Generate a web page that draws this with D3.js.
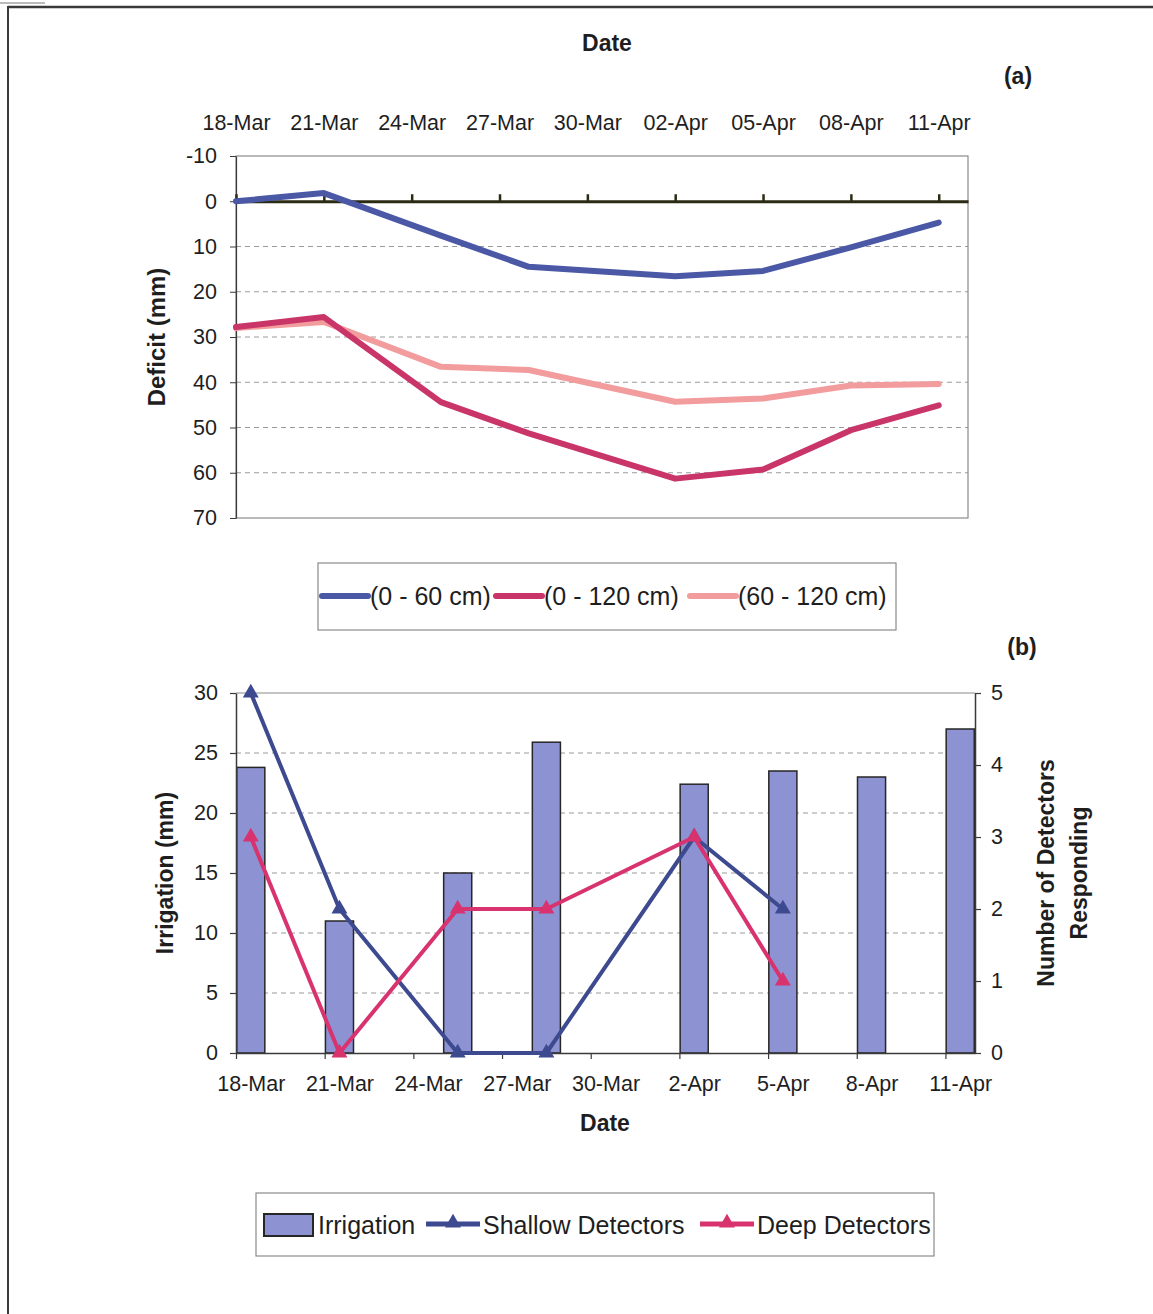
<!DOCTYPE html>
<html>
<head>
<meta charset="utf-8">
<script src="https://cdn.jsdelivr.net/npm/d3@7"></script>
<style>
  body { margin: 0; background: #fff; }
  text { font-family: "Liberation Sans", Arial, Helvetica, sans-serif; fill: #1e1e1e; }
  .title { font-weight: bold; font-size: 23px; }
  .tick text { font-size: 21.5px; }
  .legend text { font-size: 25px; }
</style>
</head>
<body>
<svg id="fig" width="1153" height="1314"></svg>
<script>
// ---- data ----------------------------------------------------------------
const sampleDates = ["2002-03-18", "2002-03-21", "2002-03-25", "2002-03-28",
                     "2002-04-02", "2002-04-05", "2002-04-08", "2002-04-11"];

// soil water deficit (mm) by depth layer
const deficit0to60   = [0, -1.8, 7.6, 14.5, 16.6, 15.4, 10.2, 4.7];
const deficit0to120  = [27.8, 25.6, 44.4, 51.3, 61.3, 59.3, 50.6, 45.1];
const deficit60to120 = [28.0, 26.7, 36.6, 37.3, 44.3, 43.6, 40.7, 40.4];
const deficitTicks   = [-10, 0, 10, 20, 30, 40, 50, 60, 70];
const deficitSeries  = ["(0 - 60 cm)", "(0 - 120 cm)", "(60 - 120 cm)"];

// irrigation depth (mm) and wetting-front detectors responding
const irrigation       = [23.8, 11, 15, 25.9, 22.4, 23.5, 23, 27];
const detectorDates    = sampleDates.slice(0, 6);
const shallowDetectors = [5, 2, 0, 0, 3, 2];
const deepDetectors    = [3, 0, 2, 2, 3, 1];
const irrigationTicks  = [0, 5, 10, 15, 20, 25, 30];
const detectorTicks    = [0, 1, 2, 3, 4, 5];

const topTickLabels    = ["18-Mar", "21-Mar", "24-Mar", "27-Mar", "30-Mar",
                          "02-Apr", "05-Apr", "08-Apr", "11-Apr"];
const bottomTickLabels = ["18-Mar", "21-Mar", "24-Mar", "27-Mar", "30-Mar",
                          "2-Apr", "5-Apr", "8-Apr", "11-Apr"];

// ---- setup ---------------------------------------------------------------
const parse = d3.timeParse("%Y-%m-%d");
const start = parse("2002-03-18");
const end   = parse("2002-04-12");
const tickDates = topTickLabels.map((_, i) => d3.timeDay.offset(start, 3 * i));
const plain = d => String(d);   // hyphen-minus, no decimals

const C = {
  blue: "#4a58a6", crimson: "#c93568", salmon: "#f29c9e",
  bar: "#8d92d2", barEdge: "#262626", navy: "#3d4a8f", rose: "#d8336e",
  grid: "#9a9a9a", frame: "#8a8a8a", axis: "#3a3a3a"
};

const svg = d3.select("#fig");

// page frame
svg.append("line").attr("x1", 8).attr("y1", 7).attr("x2", 1153).attr("y2", 7)
  .attr("stroke", "#3a3a3a").attr("stroke-width", 2.5);
svg.append("line").attr("x1", 8).attr("y1", 6).attr("x2", 8).attr("y2", 1314)
  .attr("stroke", "#3a3a3a").attr("stroke-width", 2);
svg.append("line").attr("x1", 0).attr("y1", 3).attr("x2", 45).attr("y2", 3)
  .attr("stroke", "#bbb").attr("stroke-width", 2);

// ======================= (a) soil water deficit ============================
const xTop = d3.scaleTime().domain([start, end]).range([236, 968]);
const yTop = d3.scaleLinear().domain([-10, 70]).range([156, 518]);

const gA = svg.append("g");

// dashed gridlines
gA.append("g").selectAll("line")
  .data(deficitTicks.filter(v => v > 0 && v < 70))
  .join("line")
  .attr("x1", xTop.range()[0]).attr("x2", xTop.range()[1])
  .attr("y1", d => yTop(d)).attr("y2", d => yTop(d))
  .attr("stroke", C.grid).attr("stroke-width", 1).attr("stroke-dasharray", "5,4");

// plot frame
gA.append("rect")
  .attr("x", xTop.range()[0]).attr("y", yTop(-10))
  .attr("width", xTop.range()[1] - xTop.range()[0]).attr("height", yTop(70) - yTop(-10))
  .attr("fill", "none").attr("stroke", C.frame).attr("stroke-width", 1.2);

// left value axis
const axA = gA.append("g").attr("transform", `translate(${xTop.range()[0]},0)`)
  .call(d3.axisLeft(yTop).tickValues(deficitTicks).tickSize(6).tickPadding(13)
    .tickSizeOuter(0).tickFormat(plain));
axA.select(".domain").attr("stroke", C.axis).attr("stroke-width", 1.2);
axA.selectAll(".tick line").attr("stroke", C.axis);

// date labels along the top
const axTopLab = gA.append("g").attr("transform", `translate(0,${yTop(-10)})`)
  .call(d3.axisTop(xTop).tickValues(tickDates).tickSize(0).tickPadding(26)
    .tickFormat((d, i) => topTickLabels[i]));
axTopLab.select(".domain").remove();

// date axis crossing at zero deficit
const axZero = gA.append("g").attr("transform", `translate(0,${yTop(0)})`)
  .call(d3.axisTop(xTop).tickValues(tickDates).tickSize(7).tickSizeOuter(0).tickFormat(""));
axZero.select(".domain").attr("stroke", "#2b2a12").attr("stroke-width", 3);
axZero.selectAll(".tick line").attr("stroke", "#2b2a12").attr("stroke-width", 2.5);

// deficit lines
const lineA = d3.line().x(d => xTop(d.date)).y(d => yTop(d.v));
const seriesA = [
  { name: deficitSeries[0], values: deficit0to60,   color: C.blue },
  { name: deficitSeries[1], values: deficit0to120,  color: C.crimson },
  { name: deficitSeries[2], values: deficit60to120, color: C.salmon }
];
// draw light layer first so the darker ones sit on top
[seriesA[2], seriesA[1], seriesA[0]].forEach(s => {
  gA.append("path")
    .datum(sampleDates.map((d, i) => ({ date: parse(d), v: s.values[i] })))
    .attr("d", lineA)
    .attr("fill", "none").attr("stroke", s.color).attr("stroke-width", 6)
    .attr("stroke-linejoin", "round").attr("stroke-linecap", "round");
});

// titles
svg.append("text").attr("class", "title").attr("x", 607).attr("y", 51)
  .attr("text-anchor", "middle").text("Date");
svg.append("text").attr("class", "title").attr("x", 1018).attr("y", 84)
  .attr("text-anchor", "middle").text("(a)");
svg.append("text").attr("class", "title")
  .attr("transform", `translate(165,${(yTop(-10) + yTop(70)) / 2}) rotate(-90)`)
  .attr("text-anchor", "middle").style("font-size", "24px").text("Deficit (mm)");

// legend (a)
const legA = svg.append("g").attr("class", "legend");
legA.append("rect").attr("x", 318).attr("y", 563).attr("width", 578).attr("height", 67)
  .attr("fill", "#fff").attr("stroke", C.frame).attr("stroke-width", 1.2);
const legAx = [322, 496, 690];
seriesA.forEach((s, i) => {
  legA.append("line").attr("x1", legAx[i]).attr("x2", legAx[i] + 46)
    .attr("y1", 596).attr("y2", 596)
    .attr("stroke", s.color).attr("stroke-width", 6).attr("stroke-linecap", "round");
  legA.append("text").attr("x", legAx[i] + 48).attr("y", 605).text(s.name);
});

// ======================= (b) irrigation & detectors ========================
const xBot = d3.scaleTime().domain([start, end]).range([236, 975]);
const yBot = d3.scaleLinear().domain([0, 30]).range([1053, 693]);
const yRight = d3.scaleLinear().domain([0, 5]).range([1053, 693]);
const mid = s => d3.timeHour.offset(parse(s), 12);   // centre of a day slot
const dayW = xBot(d3.timeDay.offset(start, 1)) - xBot(start);

const gB = svg.append("g");

// gridlines
gB.append("g").selectAll("line")
  .data(irrigationTicks.filter(v => v > 0 && v < 30))
  .join("line")
  .attr("x1", xBot.range()[0]).attr("x2", xBot.range()[1])
  .attr("y1", d => yBot(d)).attr("y2", d => yBot(d))
  .attr("stroke", C.grid).attr("stroke-width", 1).attr("stroke-dasharray", "5,4");
gB.append("line")
  .attr("x1", xBot.range()[0]).attr("x2", xBot.range()[1])
  .attr("y1", yBot(30)).attr("y2", yBot(30))
  .attr("stroke", C.frame).attr("stroke-width", 1.2);

// irrigation bars
const barW = dayW * 0.95;
gB.append("g").selectAll("rect")
  .data(sampleDates.map((d, i) => ({ date: d, v: irrigation[i] })))
  .join("rect")
  .attr("x", d => xBot(mid(d.date)) - barW / 2)
  .attr("y", d => yBot(d.v))
  .attr("width", barW)
  .attr("height", d => yBot(0) - yBot(d.v))
  .attr("fill", C.bar).attr("stroke", C.barEdge).attr("stroke-width", 1.5);

// axes
const axBL = gB.append("g").attr("transform", `translate(${xBot.range()[0]},0)`)
  .call(d3.axisLeft(yBot).tickValues(irrigationTicks).tickSize(6).tickPadding(12)
    .tickSizeOuter(0).tickFormat(plain));
const axBR = gB.append("g").attr("transform", `translate(${xBot.range()[1]},0)`)
  .call(d3.axisRight(yRight).tickValues(detectorTicks).tickSize(6).tickPadding(10)
    .tickSizeOuter(0).tickFormat(plain));
const axBX = gB.append("g").attr("transform", `translate(0,${yBot(0)})`)
  .call(d3.axisBottom(xBot).tickValues(tickDates).tickSize(6).tickSizeOuter(0).tickFormat(""));
const axBXLab = gB.append("g").attr("transform", `translate(0,${yBot(0)})`)
  .call(d3.axisBottom(xBot).tickValues(tickDates.map(d => d3.timeHour.offset(d, 12)))
    .tickSize(0).tickPadding(23).tickFormat((d, i) => bottomTickLabels[i]));
axBXLab.select(".domain").remove();
[axBL, axBR, axBX].forEach(a => {
  a.select(".domain").attr("stroke", C.axis).attr("stroke-width", 1.5);
  a.selectAll(".tick line").attr("stroke", C.axis).attr("stroke-width", 1.2);
});

// detector lines with triangle markers
const lineB = d3.line().x(d => xBot(mid(d.date))).y(d => yRight(d.v));
const tri = d3.symbol().type(d3.symbolTriangle).size(110);
const seriesB = [
  { name: "Shallow Detectors", values: shallowDetectors, color: C.navy },
  { name: "Deep Detectors",    values: deepDetectors,    color: C.rose }
];
seriesB.forEach(s => {
  const pts = detectorDates.map((d, i) => ({ date: d, v: s.values[i] }));
  gB.append("path").datum(pts).attr("d", lineB)
    .attr("fill", "none").attr("stroke", s.color).attr("stroke-width", 4)
    .attr("stroke-linejoin", "round");
  gB.append("g").selectAll("path").data(pts).join("path")
    .attr("d", tri)
    .attr("transform", d => `translate(${xBot(mid(d.date))},${yRight(d.v)})`)
    .attr("fill", s.color);
});

// titles
svg.append("text").attr("class", "title").attr("x", 1022).attr("y", 655)
  .attr("text-anchor", "middle").text("(b)");
svg.append("text").attr("class", "title").attr("x", 605).attr("y", 1131)
  .attr("text-anchor", "middle").text("Date");
svg.append("text").attr("class", "title")
  .attr("transform", `translate(173,${(yBot(0) + yBot(30)) / 2}) rotate(-90)`)
  .attr("text-anchor", "middle").text("Irrigation (mm)");
const rt = svg.append("text").attr("class", "title")
  .attr("transform", `translate(1054,${(yBot(0) + yBot(30)) / 2}) rotate(-90)`)
  .attr("text-anchor", "middle");
rt.append("tspan").attr("x", 0).attr("dy", 0).text("Number of Detectors");
rt.append("tspan").attr("x", 0).attr("dy", 33).text("Responding");

// legend (b)
const legB = svg.append("g").attr("class", "legend");
legB.append("rect").attr("x", 256).attr("y", 1193).attr("width", 678).attr("height", 63)
  .attr("fill", "#fff").attr("stroke", C.frame).attr("stroke-width", 1.2);
legB.append("rect").attr("x", 264).attr("y", 1214).attr("width", 49).attr("height", 22)
  .attr("fill", C.bar).attr("stroke", C.barEdge).attr("stroke-width", 2);
legB.append("text").attr("x", 318).attr("y", 1234).text("Irrigation");
const legBx = [426, 700];
seriesB.forEach((s, i) => {
  legB.append("line").attr("x1", legBx[i]).attr("x2", legBx[i] + 54)
    .attr("y1", 1224).attr("y2", 1224)
    .attr("stroke", s.color).attr("stroke-width", 5);
  legB.append("path").attr("d", tri)
    .attr("transform", `translate(${legBx[i] + 27},1223)`).attr("fill", s.color);
  legB.append("text").attr("x", legBx[i] + 57).attr("y", 1234).text(s.name);
});
</script>
</body>
</html>
